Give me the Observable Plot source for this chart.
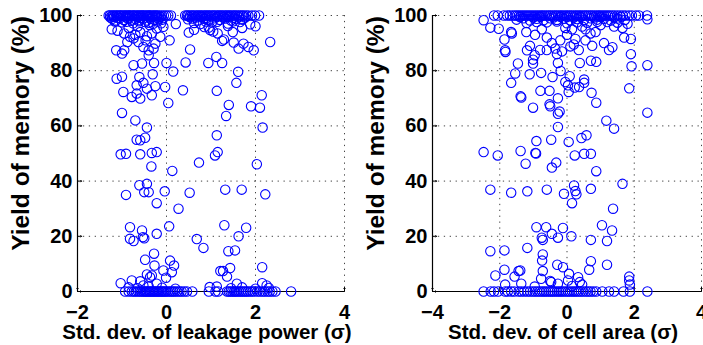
<!DOCTYPE html>
<html><head><meta charset="utf-8">
<script src="https://cdn.jsdelivr.net/npm/d3@7"></script>
<script src="https://cdn.jsdelivr.net/npm/@observablehq/plot@0.6"></script>
<style>
html,body{margin:0;padding:0;background:#fff;}
#wrap{position:relative;width:703px;height:345px;overflow:hidden;background:#fff;}
#wrap svg{position:absolute;top:0;overflow:visible;}
</style></head><body><div id="wrap"></div>
<script>
// ---------- Left panel: Std. dev. of leakage power ----------
const leakTopX = [-1.30,-1.27,-1.23,-1.20,-1.17,-1.13,-1.11,-1.07,-1.04,-1.02,-0.98,-0.95,-0.92,-0.89,-0.86,-0.83,-0.81,-0.77,-0.74,-0.72,-0.68,-0.65,-0.62,-0.59,-0.56,-0.53,-0.51,-0.47,-0.44,-0.41,-0.38,-0.36,-0.32,-0.29,-0.26,-0.23,-0.20,-0.16,-0.11,-0.06,-0.01,0.04,0.10,
  0.42,0.46,0.49,0.53,0.57,0.60,0.64,0.68,0.71,0.75,0.78,0.82,0.86,0.89,0.93,0.96,1.00,1.04,1.07,1.11,1.15,1.18,1.22,1.25,1.29,1.33,1.36,1.40,1.43,1.47,1.51,1.54,1.58,1.62,1.66,1.70,1.74,1.79,1.84,1.92,1.99,2.08];
const leakZeroX = [-0.93,-0.85,-0.78,-0.73,-0.69,-0.64,-0.60,-0.56,-0.52,-0.49,-0.46,-0.43,-0.40,-0.37,-0.34,-0.31,-0.28,-0.25,-0.22,-0.19,-0.16,-0.13,-0.10,-0.07,-0.04,-0.01,0.03,0.07,0.11,0.15,0.19,0.24,0.29,0.34,0.40,0.46,0.58,
  0.95,1.10,1.16,1.36,1.40,1.44,1.48,1.52,1.55,1.59,1.63,1.67,1.71,1.75,1.79,1.83,1.88,1.93,1.98,2.04,2.10,2.16,2.21,2.27,2.32,2.38,2.45,2.80];
const leakOther = [
  [-1.22,98.8],[-1.14,98.2],[-1.05,99],[-0.96,98.4],[-0.87,98.9],[-0.79,98.1],[-0.70,98.7],[-0.61,98.3],[-0.52,99],[-0.44,98.2],[-0.36,98.8],[-0.27,98.4],[-0.18,98.9],[-0.09,98.5],[-1.0,97.5],[-0.75,97.2],[-0.48,97.6],[-0.30,97],
  [-1.26,99.3],[-1.18,99.5],[-1.09,99.2],[-0.91,99.4],[-0.83,99.3],[-0.66,99.5],[-0.57,99.2],[-0.40,99.4],[-0.31,99.6],[-0.22,99.3],[-0.13,99.5],[-1.16,97.8],[-0.90,97.7],[-0.62,97.9],[-0.40,97.4],[-0.20,97.8],
  [-1.1,94.5],[-0.85,95.5],[-0.65,96],[-0.38,96.5],[-0.12,97.2],[-0.70,93],[-0.47,91],
  [-1.23,95.0],[-1.13,87.4],[-0.95,87.4],[-1.0,86.2],[-0.95,93.5],[-0.82,92.3],[-0.88,90.4],[-0.74,91.7],[-0.63,90.4],[-0.52,88.6],[-0.40,87.4],[-0.29,88],[-0.25,89.8],[-0.44,92.5],[-0.59,94],[-0.33,93.5],[-0.14,92.3],[-0.22,95.3],[-0.07,95.9],[0.07,91],[0.21,96.9],
  [0,82.8],[0.15,79.7],[-0.28,82.8],[-0.31,78.7],[-0.25,74.4],[-0.33,71.1],[-0.44,73.5],[-0.52,75.6],[-0.61,77.7],[-0.67,74.7],[-0.74,82],[-0.55,82.6],[-0.40,85.6],[-1.12,77.1],[-1.0,77.8],[-0.97,72.3],[-0.78,70.5],[-0.67,71.7],[-0.59,69.9],[-1.0,64.7],[-0.70,62],[-0.03,74.1],[0.04,68.3],[0.37,72.9],[0.43,83],[0.53,87.7],[0.50,93.8],
  [-0.44,59.4],[-0.67,55],[-0.59,54.8],[-0.48,55.7],[-1.03,49.7],[-0.91,49.9],[-0.59,49.7],[-0.33,50.2],[-0.22,50.5],[-0.34,45.3],[-0.61,38.5],[-0.44,39],[-0.50,36],[-0.40,36],[-0.91,35],[-0.22,32],[-0.04,36.3],[0.13,43.7],[0.27,30],[0.52,35.8],
  [-0.82,23.3],[-0.55,22.1],[-0.82,19.1],[-0.74,18.3],[-0.53,19.7],[-0.50,19.3],[-0.22,20.9],[0.06,23.6],[-1.03,3],[-0.78,4],[-0.48,11.5],[-0.28,13.7],[-0.27,9.4],[-0.44,6.2],[-0.37,5.2],[-0.33,5.8],[-0.52,2.2],[-0.22,2.8],[-0.07,7.6],[0.08,11.2],[0.17,9.4],[-0.01,5],[0.12,7],[-0.59,3.7],
  [-0.85,1.5],[-0.65,1.2],[-0.4,1.8],[-0.1,1.4],[0.2,1.0],
  [0.48,98.6],[0.58,98.9],[0.70,98.2],[0.84,98.8],[0.95,98.3],[1.08,99],[1.20,98.4],[1.33,98.9],[1.45,98.2],[1.57,98.7],[1.70,98.5],[0.62,97.3],[1.02,97.5],[1.38,97.1],[1.65,97.6],
  [0.52,99.4],[0.66,99.3],[0.79,99.5],[0.90,99.2],[1.13,99.4],[1.27,99.3],[1.40,99.5],[1.52,99.2],[1.63,99.4],[1.77,99.3],[0.88,97.8],[1.14,97.7],[1.50,97.9],
  [0.85,95.8],[1.38,96.2],[1.70,95.5],[0.62,94.8],[1.88,96.8],
  [0.76,96.9],[0.98,94.7],[0.95,95.6],[1.05,94.2],[1.15,93.5],[1.25,90.8],[1.29,91.3],[1.49,94],[1.51,90.2],[1.62,88],[1.73,89.8],[1.84,88.6],[1.96,87.4],[2.33,90.4],[2.0,96.1],
  [0.94,82.8],[1.12,85],[1.25,82.8],[1.61,79.6],[1.57,75.6],[1.13,72.7],[1.40,67.6],[1.34,63.6],[1.90,67.1],[2.10,66.6],[2.14,71.1],[2.16,59.4],[1.13,56.6],[1.09,49.3],[1.15,50.5],[0.73,46.7],[2.03,46.1],[1.32,36.9],[1.69,36.9],[2.22,35.2],
  [0.68,19],[0.83,15.8],[1.30,24],[1.62,20],[1.79,23.1],[1.39,14.6],[1.54,14.9],[1.21,7.4],[1.27,7.4],[1.43,8.5],[1.36,5.4],[2.15,8.8],[0.97,1.6],[1.13,1.8],[1.58,2.8],[2.15,3],[2.25,2.2],
  [1.45,1.2],[1.7,1.5],[2.0,1.0],[2.3,1.3]
];

// ---------- Right panel: Std. dev. of cell area ----------
const areaTopX = [-2.17,-2.06,-1.88,-1.78,-1.70,-1.62,-1.55,-1.49,-1.43,-1.37,-1.31,-1.25,-1.19,-1.13,-1.07,-1.01,-0.95,-0.89,-0.83,-0.77,-0.72,-0.66,-0.60,-0.54,-0.49,-0.43,-0.37,-0.32,-0.26,-0.20,-0.15,-0.09,-0.03,0.02,0.08,0.13,0.19,0.25,0.30,0.36,0.41,0.47,0.53,0.58,0.64,0.70,0.75,0.81,0.87,0.93,0.98,1.04,1.10,1.16,1.22,1.28,1.35,1.42,1.50,1.58,1.66,1.74,1.84,1.93,2.05,2.14,2.38];
const areaZeroX = [-2.48,-2.27,-2.17,-2.05,-1.84,-1.76,-1.66,-1.57,-1.44,-1.36,-1.27,-1.18,-1.10,-1.02,-0.95,-0.88,-0.81,-0.74,-0.68,-0.62,-0.55,-0.49,-0.43,-0.37,-0.30,-0.24,-0.18,-0.12,-0.05,0.02,0.08,0.15,0.21,0.27,0.34,0.41,0.48,0.56,0.63,0.70,0.78,0.87,1.05,1.25,1.40,1.68,1.87,2.39];
const areaOther = [
  [-1.5,98.5],[-1.3,99],[-1.1,98.2],[-0.9,98.8],[-0.7,98.3],[-0.5,99],[-0.3,98.4],[-0.1,98.9],[0.1,98.2],[0.3,98.7],[0.5,98.3],[0.7,99],[0.9,98.5],[1.1,98.8],[1.3,98.2],[1.5,98.9],[1.72,98.4],[-1.2,97.3],[-0.6,97.5],[0,97.2],[0.6,97.4],[1.2,97.6],[2.39,98.6],[1.8,97],
  [-1.4,99.4],[-1.0,99.3],[-0.8,99.5],[-0.4,99.3],[-0.2,99.5],[0.0,99.4],[0.2,99.3],[0.4,99.5],[0.8,99.3],[1.0,99.4],[1.4,99.3],[1.6,99.5],[-0.9,97.6],[-0.3,97.8],[0.3,97.5],[0.9,97.7],[1.5,97.4],
  [-0.75,95],[-0.6,92],[-0.45,90],[-0.35,88],[-0.2,91],[0,93],[0.15,95],[0.2,89.5],[0.35,87.5],[0.55,91],[0.7,93.5],[0.75,89],[0.55,95],[1.1,90],[1.25,87.5],[1.35,88.5],[1.7,92],[1.9,91.5],[1.9,86],[1.65,95.5],[-0.95,93],[-1.1,89],[-0.8,87.5],[-0.6,87.5],[-0.3,86],[-0.15,87],[0.1,88.8],[0.25,91.5],[0.45,96],[-0.05,95.5],[1.4,96],[1.0,96.5],[0.85,94],
  [-2.48,98.3],[-2.28,95.6],[-2.03,95.2],[-1.86,91.3],[-1.84,87.4],[-1.83,86.8],[-1.66,94],[-1.64,93.5],[-1.46,82.6],[-1.54,79],[-1.66,75.6],[-1.38,70.7],[-1.36,70.3],[-1.21,94],[-1.19,87.4],[-1.11,78.7],[-1.01,82.6],[-1.01,84],[-0.96,85.6],[-0.77,79.2],[-0.79,72.7],[-1.01,66.6],[-0.52,72.7],[-0.52,67.8],[-0.50,67.1],[-0.27,70],[-0.27,64.4],[-0.22,65.2],[-0.27,82.8],[-0.43,77.7],[-0.19,79.9],[0.08,78],[-0.05,75.9],[0.03,74.7],[0.05,72.3],[0.23,73.9],[0.36,74.1],[0.51,76.8],[0.51,75.6],[0.38,82.8],[0.71,83.6],[0.87,83.2],[0.73,72],[0.87,68.4],[1.17,61.9],[1.40,59],[1.92,81.6],[1.85,73.6],[2.39,82],[2.39,64.8],
  [-0.27,59.6],[-0.47,55],[-0.91,54.5],[0.05,54.2],[0.43,55.6],[0.58,56.6],[-2.48,50.5],[-2.06,49.3],[-1.38,50.9],[-1.23,46.3],[-0.94,50.2],[-0.92,50],[-0.45,44.9],[-0.32,46.7],[0.23,49.3],[0.51,49.9],[0.71,49.9],[0.87,43.6],
  [-2.28,36.9],[-1.66,35.8],[-1.18,36.3],[-0.60,36.9],[-0.09,35.4],[0.21,38.4],[0.25,36.4],[0.28,35.2],[0.15,32],[0.71,37.2],[1.65,39],[1.37,30],
  [-0.91,23.3],[-0.62,23.3],[-0.45,20.9],[-0.75,19.5],[-0.72,18.7],[-0.27,19.5],[-0.12,23],[0.13,20],[0.71,18.7],[1.04,24],[1.34,22.1],[1.19,18.3],
  [-2.28,14.6],[-1.86,14.9],[-1.18,15.8],[-0.72,13.4],[-0.74,11.2],[0.71,11],[1.19,9.7],[-2.13,5.8],[-1.86,7.9],[-1.56,5.4],[-1.44,7.4],[-1.39,7.6],[-0.72,7.4],[-0.77,4.6],[-0.47,3.4],[-0.29,9.7],[-0.12,8.8],[0.06,6.4],[0.33,5.2],[0.38,3.4],[0.03,4],[0.66,7.9],[1.85,5.4],[1.85,4],[1.87,2.5],[-1.84,2.5],[-1.36,2.8],[-0.96,1.8],[-0.27,2.8],[-0.5,3.8],[0.15,2],[0.45,2.5]
];

const yTicks = [0, 20, 40, 60, 80, 100];
const leakXTicks = [-2, 0, 2, 4];
const areaXTicks = [-4, -2, 0, 2, 4];
const yLabel = "Yield of memory (%)";
const leakLabel = "Std. dev. of leakage power (σ)";
const areaLabel = "Std. dev. of cell area (σ)";

function toRows(topX, zeroX, other) {
  return [
    ...topX.map(x => ({x, y: 100})),
    ...zeroX.map(x => ({x, y: 0})),
    ...other.map(([x, y]) => ({x, y}))
  ];
}

const FONT = "'Liberation Sans', Arial, Helvetica, sans-serif";

function panel(data, {width, marginLeft, marginRight, xDomain, xTicks, xLabel}) {
  return Plot.plot({
    width, height: 345,
    marginLeft, marginRight, marginTop: 15, marginBottom: 54,
    style: {fontFamily: FONT, fontWeight: "bold", background: "transparent", color: "black", overflow: "visible"},
    x: {domain: xDomain},
    y: {domain: [0, 100]},
    marks: [
      Plot.gridX(xTicks, {stroke: "#444", strokeOpacity: 1, strokeWidth: 1, strokeDasharray: "1.3,4.6"}),
      Plot.gridY(yTicks, {stroke: "#444", strokeOpacity: 1, strokeWidth: 1, strokeDasharray: "1.3,4.6"}),
      Plot.axisX(xTicks, {tickSize: 0, tickPadding: 13, fontSize: 20, label: null}),
      Plot.axisY(yTicks, {tickSize: 0, tickPadding: 5, fontSize: 20, label: null}),
      // inward tick marks (MATLAB style)
      Plot.vector(xTicks, {x: d => d, y: () => 0, length: 4, rotate: 0, anchor: "start", stroke: "black", strokeWidth: 1}),
      Plot.vector(yTicks, {x: () => xDomain[0], y: d => d, length: 4, rotate: 90, anchor: "start", stroke: "black", strokeWidth: 1}),
      Plot.ruleX([xDomain[0]], {stroke: "black", strokeWidth: 1.2}),
      Plot.ruleY([0], {stroke: "black", strokeWidth: 1.2}),
      Plot.dot(data, {x: "x", y: "y", r: 4.7, stroke: "#0000ff", strokeWidth: 1.1, fill: "none"}),
      Plot.text([xLabel], {frameAnchor: "bottom", dx: -4, dy: 47.5, lineAnchor: "bottom", fontSize: 20.5, fontWeight: "bold"}),
      Plot.text([yLabel], {frameAnchor: "left", rotate: -90, dx: -49, dy: -20, lineAnchor: "bottom", textAnchor: "middle", fontSize: 24.5, fontWeight: "bold"})
    ]
  });
}

const wrap = document.getElementById("wrap");
const left = panel(toRows(leakTopX, leakZeroX, leakOther), {width: 360, marginLeft: 77, marginRight: 16, xDomain: [-2, 4], xTicks: leakXTicks, xLabel: leakLabel});
left.style.left = "0px";
wrap.appendChild(left);
const right = panel(toRows(areaTopX, areaZeroX, areaOther), {width: 343, marginLeft: 72, marginRight: 2, xDomain: [-4, 4], xTicks: areaXTicks, xLabel: areaLabel});
right.style.left = "360px";
wrap.appendChild(right);
</script></body></html>
